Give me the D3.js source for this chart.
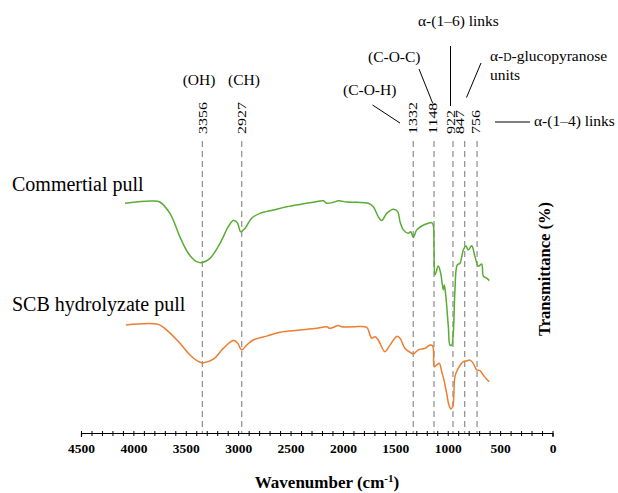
<!DOCTYPE html>
<html>
<head>
<meta charset="utf-8">
<script src="https://cdn.jsdelivr.net/npm/d3@7"></script>
<style>
  body { margin: 0; background: #fff; }
  svg { display: block; font-family: "Times New Roman", "Liberation Serif", serif; }
</style>
</head>
<body>
<svg id="chart" width="618" height="493"></svg>
<script>
// spectra: [wavenumber cm-1, transmittance (arbitrary, offset)]
const commercial = [
  [4080, 76.6], [3841, 77.3], [3753, 77.1], [3651, 73.2], [3555, 65.3], [3476, 59.9],
  [3396, 57.1], [3342, 56.8], [3269, 58.2], [3173, 63.2], [3094, 68.8], [3046, 70.8],
  [3008, 70.1], [2976, 67.1], [2935, 68.2], [2871, 71.6], [2792, 73.2], [2665, 74.3],
  [2537, 75.4], [2410, 76.2], [2283, 76.9], [2187, 77.4], [2155, 76.6], [2092, 76.9],
  [2044, 77.4], [1964, 77.0], [1869, 76.9], [1758, 76.6], [1710, 75.4], [1663, 72.1],
  [1630, 70.8], [1582, 73.2], [1519, 74.6], [1477, 73.8], [1455, 70.4], [1424, 67.7],
  [1376, 66.6], [1353, 67.1], [1329, 65.2], [1296, 67.7], [1248, 69.0], [1185, 69.9],
  [1153, 70.1], [1138, 69.3], [1131, 62.1], [1121, 52.7], [1090, 55.7], [1067, 53.2],
  [1042, 47.7], [1033, 49.3], [1019, 46.0], [994, 35.4], [978, 29.3], [962, 29.3],
  [947, 33.2], [931, 47.7], [909, 56.0], [883, 56.6], [851, 61.0], [826, 62.3],
  [804, 61.0], [771, 62.4], [740, 58.8], [708, 55.6], [676, 56.3], [660, 52.3],
  [628, 51.6], [603, 50.8]
];
const scb = [
  [4071, 36.0], [3762, 36.2], [3682, 34.3], [3555, 29.9], [3460, 26.0], [3364, 23.6],
  [3333, 23.4], [3237, 24.6], [3142, 28.2], [3046, 30.8], [3008, 30.1], [2966, 27.7],
  [2919, 29.3], [2856, 31.0], [2728, 32.3], [2601, 33.6], [2410, 34.3], [2250, 34.9],
  [2155, 35.4], [2124, 34.9], [2044, 35.8], [2012, 35.4], [1901, 35.4], [1773, 35.2],
  [1742, 32.7], [1726, 31.6], [1694, 32.1], [1663, 31.0], [1599, 27.1], [1551, 29.3],
  [1487, 32.2], [1455, 31.6], [1408, 28.2], [1344, 26.6], [1329, 26.3], [1281, 27.7],
  [1217, 28.2], [1169, 29.3], [1143, 29.0], [1128, 22.1], [1105, 22.7], [1080, 23.2],
  [1057, 20.4], [1036, 17.7], [1010, 13.2], [988, 9.3], [969, 8.0], [950, 9.3],
  [931, 18.8], [899, 21.6], [851, 23.8], [819, 24.0], [787, 24.3], [756, 23.2],
  [723, 21.0], [692, 20.8], [660, 19.3], [622, 17.7], [603, 17.1]
];

const peakLabels = ["3356", "2927", "1332", "1148", "922", "847", "756"];
const peakLines = [3342, 2966, 1329, 1131, 950, 838, 720];
const labelNudge = [1, 0, 0, -1, -2, -5, -1];

const xTicks = d3.range(0, 4501, 500);

const svg = d3.select("#chart");

const x = d3.scaleLinear().domain([4500, 0]).range([81, 552.5]);
const y = d3.scaleLinear().domain([0, 100]).range([433, 133]);

// dashed peak markers
svg.append("g")
    .attr("stroke", "#8c8c8c")
    .attr("stroke-width", 1.2)
    .attr("stroke-dasharray", "6,4")
    .selectAll("line")
    .data(peakLines)
    .join("line")
    .attr("x1", d => x(d))
    .attr("x2", d => x(d))
    .attr("y1", 141)
    .attr("y2", 433);

// peak numbers, rotated and squeezed like the original
svg.append("g")
    .attr("font-size", 16)
    .selectAll("text")
    .data(peakLabels)
    .join("text")
    .attr("transform", (d, i) => `translate(${x(peakLines[i]) + labelNudge[i] + 4},134) scale(0.78,1) rotate(-90)`)
    .text(d => d);

// spectra
const line = d3.line()
    .x(d => x(d[0]))
    .y(d => y(d[1]))
    .curve(d3.curveCatmullRom.alpha(0.5));

svg.append("path")
    .datum(commercial)
    .attr("fill", "none")
    .attr("stroke", "#5aab33")
    .attr("stroke-width", 1.5)
    .attr("d", line);

svg.append("path")
    .datum(scb)
    .attr("fill", "none")
    .attr("stroke", "#ed7d31")
    .attr("stroke-width", 1.5)
    .attr("d", line);

// x axis
const xAxis = svg.append("g")
    .attr("transform", "translate(0,433)")
    .call(d3.axisBottom(x)
      .tickValues(d3.range(0, 4501, 100))
      .tickSize(4)
      .tickFormat(d => xTicks.includes(d) ? d : ""));

xAxis.select(".domain").attr("stroke", "#000").attr("stroke-width", 1.2);
xAxis.selectAll(".tick line").attr("stroke", "#000").attr("y1", -2).attr("y2", 3);
xAxis.selectAll(".tick text")
    .attr("y", 10)
    .attr("font-family", "Times New Roman, Liberation Serif, serif")
    .attr("font-size", 13.5)
    .attr("font-weight", "bold")
    .attr("fill", "#000");

// axis titles
const xt = svg.append("text")
    .attr("x", 327)
    .attr("y", 488)
    .attr("text-anchor", "middle")
    .attr("font-size", 17)
    .attr("font-weight", "bold")
    .text("Wavenumber (cm");
xt.append("tspan").attr("dy", -6).attr("font-size", 11).text("-1");
xt.append("tspan").attr("dy", 6).text(")");

svg.append("text")
    .attr("transform", "translate(550,269) rotate(-90)")
    .attr("text-anchor", "middle")
    .attr("font-size", 16.5)
    .attr("font-weight", "bold")
    .text("Transmittance (%)");

// series names
svg.append("text").attr("x", 12).attr("y", 191).attr("font-size", 20).text("Commertial pull");
svg.append("text").attr("x", 12).attr("y", 311).attr("font-size", 20).text("SCB hydrolyzate pull");

// group annotations
const ann = svg.append("g").attr("font-size", 15.5);
ann.append("text").attr("x", 199).attr("y", 85).attr("text-anchor", "middle").text("(OH)");
ann.append("text").attr("x", 244).attr("y", 85).attr("text-anchor", "middle").text("(CH)");
ann.append("text").attr("x", 343).attr("y", 95).text("(C-O-H)");
ann.append("text").attr("x", 368).attr("y", 62).text("(C-O-C)");
ann.append("text").attr("x", 418).attr("y", 26).text("α-(1–6) links");
const glu = ann.append("text").attr("x", 490).attr("y", 61);
glu.append("tspan").text("α-");
glu.append("tspan").attr("font-size", 11.5).text("D");
glu.append("tspan").text("-glucopyranose");
ann.append("text").attr("x", 490).attr("y", 80).text("units");
ann.append("text").attr("x", 534).attr("y", 126).text("α-(1–4) links");

// leader lines
const leaders = [
  [450.5, 46, 450.5, 106],
  [419, 69, 432.8, 103.5],
  [481, 63, 466.5, 97.5],
  [372.5, 105, 400, 123],
  [495, 122, 530, 122]
];
svg.append("g")
    .attr("stroke", "#000")
    .attr("stroke-width", 1)
    .selectAll("line")
    .data(leaders)
    .join("line")
    .attr("x1", d => d[0]).attr("y1", d => d[1])
    .attr("x2", d => d[2]).attr("y2", d => d[3]);
</script>
</body>
</html>
